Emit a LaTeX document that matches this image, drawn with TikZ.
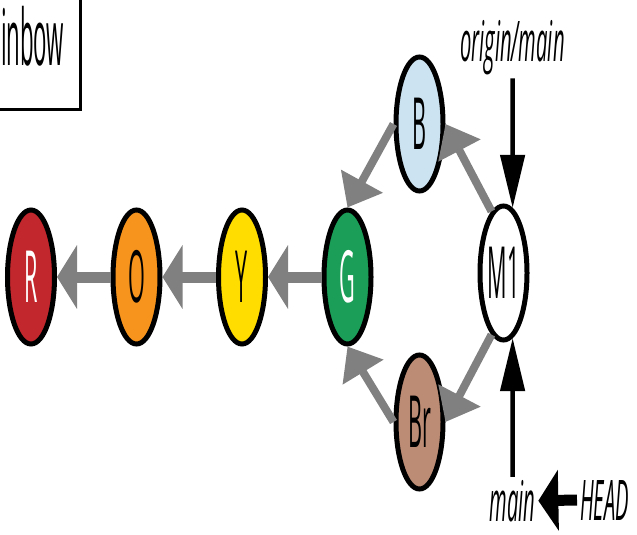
\documentclass[tikz,border=0pt]{standalone}
\usepackage{fontspec}
\setmainfont{Open Sans}
\newfontfamily\commitfont{Open Sans}[FakeStretch=0.3]
\newfontfamily\titlefont{Open Sans}[FakeStretch=0.285]
\newfontfamily\reffont{Open Sans}[FakeStretch=0.36]
\usetikzlibrary{arrows.meta, positioning, shapes.geometric}
\definecolor{rred}{HTML}{C1272D}
\definecolor{oorange}{HTML}{F7941D}
\definecolor{yyellow}{HTML}{FFDD00}
\definecolor{ggreen}{HTML}{1B9E57}
\definecolor{bblue}{HTML}{CCE3F1}
\definecolor{bbrown}{HTML}{BC8C75}
\definecolor{linkgray}{HTML}{808080}
\tikzstyle{commit} = [ellipse, draw, line width=5pt, minimum width=47pt,
  minimum height=134pt, inner sep=0pt, font=\commitfont\fontsize{72}{80}\selectfont]
\tikzstyle{parent} = [draw=linkgray, line width=11pt, -{Triangle[length=20pt, width=63pt]}]
\tikzstyle{parentdiag} = [draw=linkgray, line width=8pt, -{Triangle[length=30pt, width=46pt]}]
\tikzstyle{pointer} = [line width=4.5pt, -{Triangle[length=53pt, width=24pt]}]
\tikzstyle{headarrow} = [line width=11pt, -{Triangle[length=20pt, width=60pt]}]
\tikzstyle{reftext} = [inner sep=0pt, outer sep=3pt,
  font=\reffont\itshape\fontsize{56}{60}\selectfont]

\begin{document}
\begin{tikzpicture}[x=1pt, y=-1pt]
    \useasboundingbox (0,0) rectangle (637,535);
    \clip (0,0) rectangle (637,535);
    \node[draw, fill=white, line width=3.5pt, anchor=south east, minimum height=146pt,
      inner xsep=16pt, font=\titlefont\fontsize{78}{84}\selectfont] (title) at (82,111) {Rainbow};
    % commits
    \node[commit, fill=ggreen, text=white] (G) at (347.5,277) {G};
    \node[commit, fill=yyellow, left=53.5pt of G] (Y) {Y};
    \node[commit, fill=oorange, left=53.5pt of Y] (O) {O};
    \node[commit, fill=rred, text=white, left=53.5pt of O] (R) {R};
    \node[commit, fill=bblue] (B) at (419.5,124) {B};
    \node[commit, fill=bbrown] (Br) at (419.5,422) {Br};
    \node[commit, fill=white] (M1) at (503.5,273) {M1};
    % refs
    \node[reftext, anchor=base] (om) at (512.5,62) {origin/main};
    \node[reftext, anchor=base] (main) at (512.5,521) {main};
    \node[reftext, anchor=base west] (head) at (577,520) {HEAD};
    \draw[parent] (O.west) -- (R.east);
    \draw[parent] (Y.west) -- (O.east);
    \draw[parent] (G.west) -- (Y.east);
    \draw[parentdiag] (B.west) -- (G.north);
    \draw[parentdiag] (Br.west) -- (G.south);
    \draw[parentdiag] (M1.101) -- (B.east);
    \draw[parentdiag] (M1.259) -- (Br.east);
    \draw[pointer] (om.south) -- (M1.82);
    \draw[pointer] (main.north) -- (M1.278);
    \draw[headarrow] (head.west) -- (main.east);
  \end{tikzpicture}
\end{document}
